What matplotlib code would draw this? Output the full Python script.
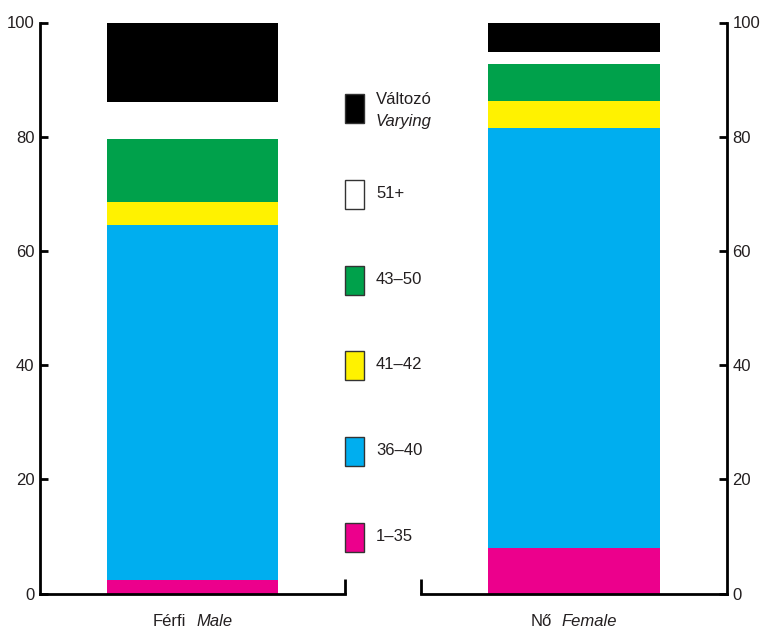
import matplotlib
matplotlib.use("Agg")
import matplotlib.pyplot as plt
from matplotlib.patches import Rectangle
from matplotlib import transforms
from matplotlib import font_manager

available = {f.name for f in font_manager.fontManager.ttflist}
fams = [f for f in ['Liberation Sans Narrow', 'Liberation Sans'] if f in available] + ['DejaVu Sans']
plt.rcParams['font.family'] = fams

segments = ['1–35', '36–40', '41–42', '43–50', '51+', 'Változó']
segment_en = ['', '', '', '', '', 'Varying']
colors = ['#EC008C', '#00AEEF', '#FFF200', '#00A14B', '#FFFFFF', '#000000']
groups_hu = ['Férfi', 'Nő']
groups_en = ['Male', 'Female']
male = [2.4, 62.1, 4.1, 11.0, 6.4, 14.0]
female = [8.0, 73.6, 4.6, 6.6, 2.0, 5.2]
yticks = [0, 20, 40, 60, 80, 100]

TXT = '#231F20'
FS = 12
W, H = 760, 632
fig = plt.figure(figsize=(7.6, 6.32), dpi=100)
y0, y1 = 593.5, 22.5
ax_l = fig.add_axes([40 / W, 1 - y0 / H, 305 / W, (y0 - y1) / H])
ax_r = fig.add_axes([421 / W, 1 - y0 / H, 306 / W, (y0 - y1) / H])
renderer = fig.canvas.get_renderer()

for ax, vals, hu, en, side in [(ax_l, male, groups_hu[0], groups_en[0], 'left'),
                               (ax_r, female, groups_hu[1], groups_en[1], 'right')]:
    bottom = 0
    for v, c in zip(vals, colors):
        ax.bar(0, v, bottom=bottom, width=0.56, color=c, edgecolor='none')
        bottom += v
    ax.set_xlim(-0.5, 0.5)
    ax.set_ylim(0, 100)
    ax.set_yticks(yticks)
    ax.spines['top'].set_visible(False)
    for s in ['left', 'right', 'bottom']:
        ax.spines[s].set_linewidth(2.0)
    if side == 'left':
        ax.spines['right'].set_visible(False)
        ax.yaxis.tick_left()
        ax.set_xticks([0.5])
    else:
        ax.spines['left'].set_visible(False)
        ax.yaxis.tick_right()
        ax.set_xticks([-0.5])
    ax.tick_params(axis='y', direction='in', length=6, width=2.0, labelsize=FS, pad=4,
                   colors='black', labelcolor=TXT)
    ax.tick_params(axis='x', direction='in', length=11, width=2.0, labelbottom=False)

    # category label: "Hungarian  English(italic)" centred as a whole
    tr = ax.get_xaxis_transform()
    t1 = ax.text(0, -0.049, hu, transform=tr, ha='left', va='center', fontsize=FS, color=TXT)
    t2 = ax.text(0, -0.049, en, transform=tr, ha='left', va='center', fontsize=FS,
                 color=TXT, style='italic')
    w1 = t1.get_window_extent(renderer).width
    w2 = t2.get_window_extent(renderer).width
    gap = 10
    total = w1 + gap + w2
    t1.set_transform(transforms.offset_copy(tr, fig=fig, x=-total / 2, y=0, units='dots'))
    t2.set_transform(transforms.offset_copy(tr, fig=fig, x=-total / 2 + w1 + gap, y=0, units='dots'))

# legend (top to bottom: reversed segment order)
top_y = 108.7
step = 85.76
for i, (lab, en, c) in enumerate(zip(segments[::-1], segment_en[::-1], colors[::-1])):
    yc = top_y + i * step
    fig.add_artist(Rectangle((345 / W, 1 - (yc + 14.5) / H), 19 / W, 29 / H,
                             transform=fig.transFigure, facecolor=c,
                             edgecolor='#333333', linewidth=1.0))
    if en:
        fig.text(376 / W, 1 - (yc - 9) / H, lab, ha='left', va='center', fontsize=FS, color=TXT)
        fig.text(376 / W, 1 - (yc + 13) / H, en, ha='left', va='center', fontsize=FS,
                 style='italic', color=TXT)
    else:
        fig.text(376 / W, 1 - (yc - 1) / H, lab, ha='left', va='center', fontsize=FS, color=TXT)

fig.savefig('out.png', dpi=100)
